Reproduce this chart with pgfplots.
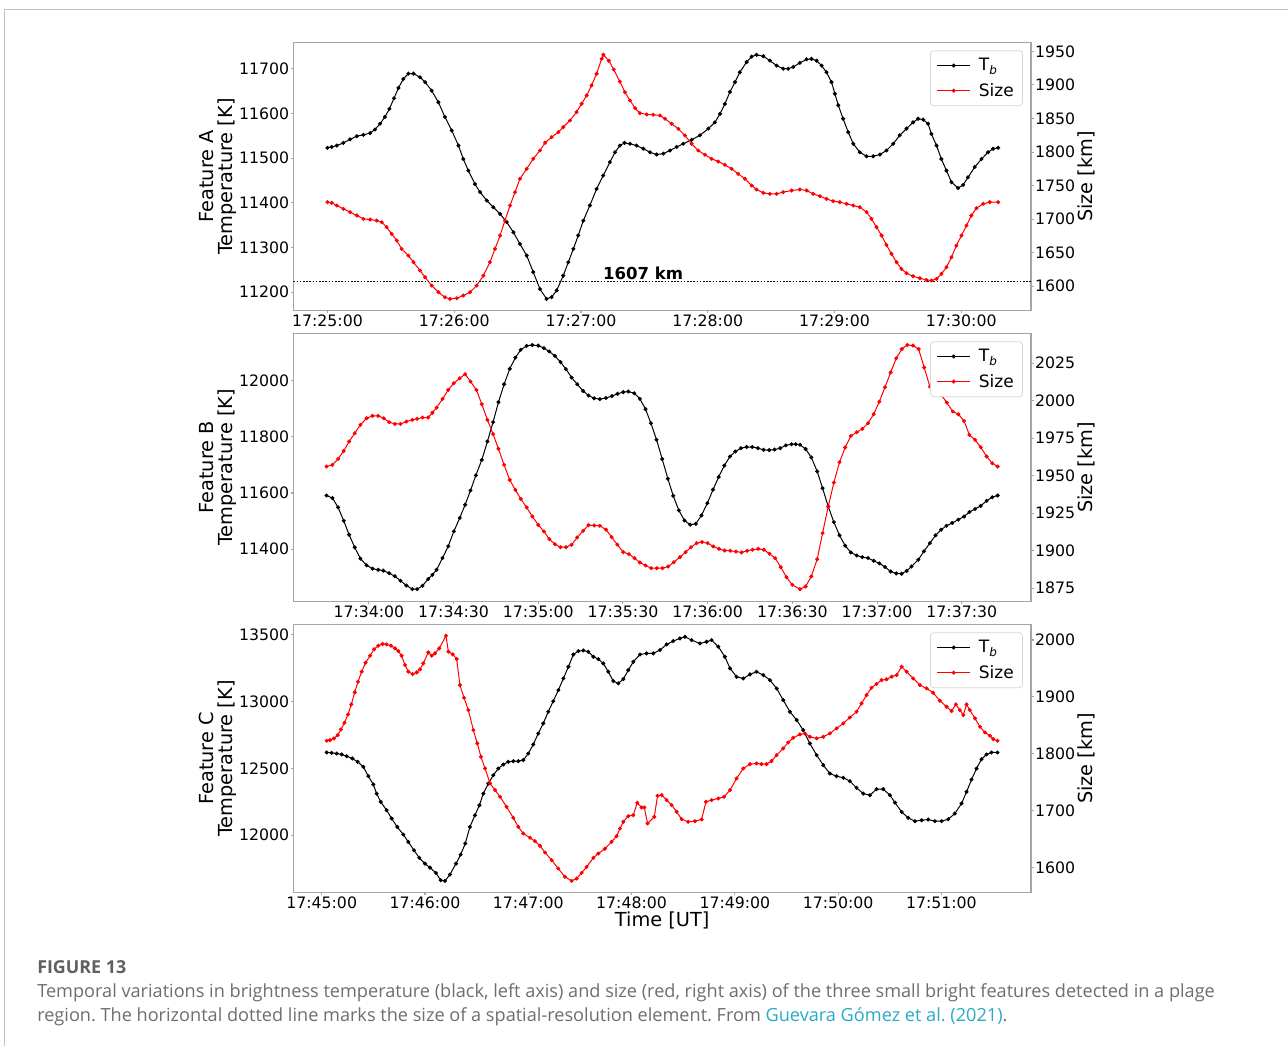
\documentclass[border=0pt]{standalone}
\usepackage{fontspec}
\setmainfont{DejaVu Sans}
\newfontfamily\capfam{Open Sans}
\usepackage{pgfplots}
\pgfplotsset{compat=1.18}
\definecolor{spinec}{RGB}{165,165,165}
\definecolor{legc}{RGB}{215,215,215}
\definecolor{framec}{RGB}{195,195,195}
\definecolor{capgray}{RGB}{110,110,110}
\definecolor{capdark}{RGB}{95,95,95}
\definecolor{linkc}{RGB}{40,172,198}
\newcommand\tickfont{\fontsize{11.8}{13}\selectfont}
\newcommand\labfont{\fontsize{14.5}{14.3}\selectfont}
\newcommand\legfont{\fontsize{12.8}{14}\selectfont}
\frenchspacing
\pgfplotsset{
  panelbase/.style={
    scale only axis, width=553.1pt, height=201.15pt, anchor=south west,
    axis line style={spinec, line width=1pt},
    tick style={spinec, line width=0.8pt},
    major tick length=2pt, tick align=outside,
    ticklabel style={font=\tickfont, inner sep=1pt},
    /pgf/number format/assume math mode=true,
    scaled ticks=false,
    label style={font=\labfont},
    ylabel style={align=center, inner sep=1pt},
    xlabel style={inner sep=1pt},
  },
  leftax/.style={panelbase, xtick pos=bottom, ytick pos=left},
  rightax/.style={panelbase, axis y line*=right, axis x line=none,
    ylabel={Size [km]},
    legend style={at={(1,1)}, anchor=north east, xshift=-6pt, yshift=-6pt,
      draw=legc, line width=0.6pt, rounded corners=2.5pt, fill=white,
      font=\legfont, row sep=3.8pt, column sep=4pt, inner xsep=4.5pt, inner ysep=3.7pt,
      cells={anchor=west}},
    legend image code/.code={\draw[mark repeat=2,mark phase=2,##1] plot coordinates {(0pt,0pt) (12.5pt,0pt) (25pt,0pt)};},
  },
  tbline/.style={black, line width=0.75pt, mark=*, mark size=1.1pt, mark options={solid}},
  szline/.style={red, line width=0.75pt, mark=*, mark size=1.1pt, mark options={solid}},
}
\begin{document}
\begin{tikzpicture}
\path[use as bounding box] (0pt,0pt) rectangle (966pt,784.5pt);
\fill[white] (0pt,0pt) rectangle (966pt,784.5pt);
\draw[framec, line width=0.9pt] (3.5pt,0pt) -- (3.5pt,777.5pt) -- (966pt,777.5pt);

% ---------------- Panel A ----------------
\begin{axis}[leftax, at={(220.1pt,551.6pt)},
  xmin=-16.1, xmax=333, ymin=11159, ymax=11759,
  xtick={0,60,120,180,240,300},
  xticklabels={17:25:00,17:26:00,17:27:00,17:28:00,17:29:00,17:30:00},
  ytick={11200,11300,11400,11500,11600,11700},
  yticklabels={11200,11300,11400,11500,11600,11700},
  ylabel={Feature A\\Temperature [K]}]
\addplot[tbline] table[row sep=\\]{t v\\
0 11523\\ 2.0 11525\\ 4.4 11528\\ 7.5 11534\\ 10.7 11542\\ 13.9 11549\\ 17.0 11552\\ 20.2 11556\\ 22.5 11564\\ 24.9 11577\\
27.2 11592\\ 29.3 11610\\ 31.5 11634\\ 33.6 11657\\ 35.9 11677\\ 38.3 11689\\ 40.7 11689\\ 43.8 11681\\ 46.2 11670\\ 49.3 11651\\
52.5 11625\\ 55.6 11592\\ 58.8 11562\\ 62.0 11528\\ 64.3 11498\\ 66.7 11472\\ 69.8 11442\\ 72.2 11424\\ 75.4 11405\\ 78.5 11390\\
81.7 11375\\ 84.8 11357\\ 88.0 11334\\ 91.1 11308\\ 94.3 11282\\ 97.4 11245\\ 100.6 11207\\ 103.7 11185\\ 106.1 11189\\ 108.5 11204\\
111.6 11237\\ 114.0 11267\\ 116.4 11297\\ 118.7 11327\\ 121.1 11360\\ 124.2 11394\\ 127.4 11431\\ 130.5 11461\\ 133.7 11491\\ 136.1 11513\\
138.4 11528\\ 140.6 11534\\ 143.2 11532\\ 146.3 11528\\ 149.5 11521\\ 152.7 11513\\ 155.8 11508\\ 159.0 11510\\ 162.1 11517\\ 165.3 11525\\
168.4 11532\\ 172.4 11541\\ 176.3 11551\\ 180.3 11566\\ 183.4 11580\\ 185.8 11599\\ 188.1 11621\\ 190.5 11648\\ 192.9 11670\\ 195.2 11692\\
198.4 11715\\ 200.8 11727\\ 203.1 11731\\ 206.3 11728\\ 209.4 11718\\ 212.6 11707\\ 215.7 11700\\ 218.1 11700\\ 220.5 11704\\ 223.6 11713\\
226.8 11721\\ 229.1 11722\\ 231.5 11718\\ 233.9 11707\\ 236.2 11692\\ 238.6 11670\\ 240.2 11644\\ 241.8 11618\\ 244.1 11588\\ 246.5 11558\\
248.9 11532\\ 252.0 11513\\ 255.2 11504\\ 258.3 11504\\ 261.5 11508\\ 264.6 11517\\ 267.8 11532\\ 270.9 11551\\ 274.1 11566\\ 277.2 11580\\
279.6 11588\\ 282.0 11586\\ 284.3 11577\\ 285.9 11554\\ 288.3 11528\\ 290.6 11498\\ 293.0 11472\\ 295.4 11446\\ 298.5 11433\\ 300.9 11440\\
303.2 11457\\ 306.4 11480\\ 309.6 11498\\ 312.7 11513\\ 315.1 11521\\ 317.5 11523\\
};
\end{axis}
\begin{axis}[rightax, at={(220.1pt,551.6pt)},
  xmin=-16.1, xmax=333, ymin=1563.8, ymax=1963.5,
  ytick={1600,1650,1700,1750,1800,1850,1900,1950},
  yticklabels={1600,1650,1700,1750,1800,1850,1900,1950}]
\addlegendimage{tbline}
\addlegendentry{T\textsubscript{\itshape b}}
\addplot[szline] table[row sep=\\]{t v\\
0 1725.3\\ 2.0 1724.3\\ 4.4 1720.3\\ 7.5 1715.3\\ 10.7 1710.4\\ 13.9 1705.4\\ 17.0 1700.4\\ 20.2 1699.4\\ 23.3 1697.9\\ 25.7 1695.4\\
28.0 1688.0\\ 30.4 1678.0\\ 32.8 1668.1\\ 35.1 1655.7\\ 38.3 1645.7\\ 40.7 1635.8\\ 43.8 1623.4\\ 46.2 1613.4\\ 49.3 1601.0\\ 52.5 1591.1\\
55.6 1583.6\\ 58.0 1581.1\\ 61.2 1582.1\\ 64.3 1586.1\\ 67.5 1591.1\\ 70.6 1601.0\\ 73.8 1615.9\\ 76.9 1635.8\\ 79.3 1655.7\\ 81.7 1675.6\\
84.0 1697.9\\ 86.4 1720.3\\ 88.8 1740.2\\ 91.1 1760.1\\ 94.3 1775.0\\ 97.4 1789.9\\ 100.6 1802.3\\ 103.0 1813.8\\ 106.1 1822.2\\ 109.3 1829.7\\
111.6 1837.1\\ 114.8 1847.1\\ 117.9 1859.5\\ 120.3 1871.9\\ 122.7 1884.3\\ 125.0 1899.3\\ 127.4 1916.7\\ 129.8 1939.0\\ 130.6 1945.0\\ 133.2 1936.0\\
135.5 1923.0\\ 138.4 1905.0\\ 140.8 1889.3\\ 143.2 1876.9\\ 145.6 1865.5\\ 147.9 1858.0\\ 151.1 1856.0\\ 154.2 1855.5\\ 157.4 1854.5\\ 159.8 1849.6\\
162.9 1842.1\\ 166.1 1834.6\\ 169.2 1824.7\\ 172.4 1812.3\\ 175.5 1802.3\\ 178.7 1795.9\\ 181.8 1789.9\\ 185.0 1785.9\\ 188.1 1780.9\\ 191.3 1775.0\\
194.4 1767.5\\ 197.6 1760.1\\ 200.8 1750.1\\ 203.1 1744.2\\ 206.3 1739.2\\ 209.4 1737.7\\ 212.6 1737.7\\ 215.7 1740.2\\ 219.7 1742.7\\ 223.6 1744.2\\
226.8 1742.7\\ 229.9 1737.7\\ 233.1 1734.2\\ 236.2 1730.2\\ 239.4 1726.8\\ 242.5 1725.3\\ 245.7 1722.8\\ 248.9 1720.3\\ 252.0 1717.8\\ 255.2 1710.4\\
257.5 1700.4\\ 259.9 1688.0\\ 262.3 1675.6\\ 264.6 1661.6\\ 267.0 1648.2\\ 269.4 1635.8\\ 271.7 1625.8\\ 274.1 1619.4\\ 277.2 1614.9\\ 280.4 1611.9\\
283.5 1609.4\\ 285.9 1608.5\\ 288.3 1610.9\\ 290.6 1618.4\\ 293.0 1628.3\\ 295.4 1643.2\\ 297.7 1660.6\\ 300.1 1675.6\\ 302.5 1690.5\\ 304.8 1705.4\\
307.2 1716.3\\ 310.4 1722.8\\ 313.5 1725.3\\ 317.5 1725.3\\
};
\addlegendentry{Size}
\addplot[black, line width=1.2pt, dash pattern=on 1.1pt off 1.3pt, mark=none, forget plot] coordinates {(-16.1,1607) (333,1607)};
\node[anchor=south, inner sep=1pt, font=\fontsize{12.4}{13}\selectfont\bfseries] at (axis cs:149.4,1607) {1607 km};
\end{axis}

% ---------------- Panel B ----------------
\begin{axis}[leftax, at={(220.1pt,333.4pt)},
  xmin=-26.7, xmax=234.5, ymin=11213, ymax=12170,
  xtick={0,30,60,90,120,150,180,210},
  xticklabels={17:34:00,17:34:30,17:35:00,17:35:30,17:36:00,17:36:30,17:37:00,17:37:30},
  ytick={11400,11600,11800,12000},
  yticklabels={11400,11600,11800,12000},
  ylabel={Feature B\\Temperature [K]}]
\addplot[tbline] table[row sep=\\]{t v\\
-15.0 11591\\ -12.9 11582\\ -10.9 11549\\ -8.9 11501\\ -7.0 11451\\ -5.0 11406\\ -3.0 11366\\ -0.8 11342\\ 1.3 11330\\ 3.3 11326\\
5.1 11323\\ 7.2 11314\\ 9.2 11303\\ 11.2 11287\\ 13.3 11270\\ 15.4 11257\\ 17.1 11257\\ 19.0 11269\\ 21.0 11293\\ 22.5 11308\\
24.0 11326\\ 26.1 11368\\ 28.1 11410\\ 30.1 11463\\ 32.2 11511\\ 34.1 11558\\ 36.0 11609\\ 37.9 11663\\ 40.0 11718\\ 42.0 11784\\
44.0 11853\\ 45.9 11924\\ 47.9 11988\\ 49.9 12043\\ 51.9 12083\\ 53.8 12111\\ 55.9 12125\\ 57.9 12128\\ 60.0 12126\\ 62.0 12117\\
63.9 12105\\ 65.9 12089\\ 67.9 12067\\ 69.8 12042\\ 71.8 12012\\ 73.8 11988\\ 75.9 11964\\ 77.8 11948\\ 79.8 11938\\ 81.8 11935\\
84.0 11939\\ 86.1 11946\\ 88.1 11954\\ 90.1 11960\\ 91.9 11962\\ 94.0 11956\\ 96.0 11936\\ 98.0 11899\\ 99.9 11849\\ 101.9 11790\\
103.9 11721\\ 105.9 11651\\ 107.8 11590\\ 109.8 11538\\ 111.8 11502\\ 113.8 11487\\ 115.8 11490\\ 117.8 11520\\ 119.9 11564\\ 121.9 11612\\
123.9 11657\\ 125.9 11698\\ 127.9 11730\\ 129.8 11748\\ 131.8 11760\\ 133.8 11764\\ 135.8 11764\\ 137.8 11760\\ 139.8 11754\\ 141.8 11753\\
143.7 11755\\ 145.7 11760\\ 147.7 11770\\ 149.7 11774\\ 151.2 11774\\ 152.7 11772\\ 154.7 11757\\ 156.7 11727\\ 158.8 11677\\ 160.7 11617\\
162.7 11552\\ 164.7 11496\\ 166.7 11449\\ 168.7 11412\\ 170.7 11388\\ 172.8 11377\\ 174.8 11371\\ 176.8 11368\\ 178.8 11358\\ 180.8 11349\\
182.8 11336\\ 184.8 11320\\ 186.8 11313\\ 188.7 11312\\ 190.5 11322\\ 192.2 11338\\ 194.6 11362\\ 196.6 11392\\ 198.7 11421\\ 200.7 11449\\
202.7 11469\\ 204.6 11483\\ 206.6 11493\\ 208.8 11505\\ 210.8 11516\\ 212.7 11532\\ 214.7 11543\\ 216.7 11554\\ 218.8 11572\\ 220.8 11585\\
222.7 11591\\
};
\end{axis}
\begin{axis}[rightax, at={(220.1pt,333.4pt)},
  xmin=-26.7, xmax=234.5, ymin=1866.1, ymax=2045,
  ytick={1875,1900,1925,1950,1975,2000,2025},
  yticklabels={1875,1900,1925,1950,1975,2000,2025}]
\addlegendimage{tbline}
\addlegendentry{T\textsubscript{\itshape b}}
\addplot[szline] table[row sep=\\]{t v\\
-15.0 1956.1\\ -12.9 1957.2\\ -10.9 1961.2\\ -8.9 1966.5\\ -7.0 1972.8\\ -5.0 1978.3\\ -3.0 1983.9\\ -0.8 1988.3\\ 1.3 1989.9\\ 3.3 1989.9\\
5.3 1988.3\\ 7.2 1985.7\\ 9.2 1984.5\\ 11.2 1984.5\\ 13.3 1986.1\\ 15.4 1987.2\\ 17.1 1987.9\\ 19.0 1988.8\\ 21.0 1988.8\\ 22.5 1992.0\\
24.0 1995.4\\ 26.1 2001.2\\ 28.1 2007.2\\ 30.1 2011.7\\ 32.2 2015.0\\ 34.1 2017.7\\ 36.0 2012.8\\ 38.1 2007.2\\ 40.0 1997.7\\ 42.0 1987.2\\
44.0 1977.7\\ 45.9 1967.9\\ 47.9 1957.2\\ 49.9 1947.2\\ 51.9 1940.5\\ 53.8 1934.5\\ 55.9 1928.8\\ 57.9 1922.8\\ 60.0 1917.2\\ 62.0 1912.8\\
63.9 1907.7\\ 65.9 1904.3\\ 67.9 1902.3\\ 69.8 1902.3\\ 71.8 1903.9\\ 73.8 1908.8\\ 75.9 1913.2\\ 77.8 1917.0\\ 79.8 1916.8\\ 81.8 1916.6\\
84.0 1914.0\\ 86.0 1909.0\\ 88.0 1904.0\\ 90.1 1899.0\\ 92.1 1897.7\\ 94.1 1895.0\\ 96.0 1892.1\\ 98.0 1890.1\\ 100.0 1888.3\\ 102.0 1888.3\\
104.0 1888.3\\ 106.0 1889.4\\ 108.0 1892.3\\ 110.2 1895.7\\ 112.2 1899.0\\ 114.1 1902.3\\ 116.1 1905.0\\ 118.0 1905.7\\ 120.0 1905.0\\ 122.0 1902.8\\
124.0 1901.2\\ 126.0 1900.1\\ 128.0 1899.9\\ 130.0 1899.4\\ 132.0 1898.8\\ 134.0 1899.9\\ 135.9 1900.6\\ 137.9 1901.2\\ 139.9 1900.6\\ 141.9 1897.9\\
143.9 1895.0\\ 145.9 1889.0\\ 147.9 1882.3\\ 150.0 1877.2\\ 152.7 1874.3\\ 154.7 1876.1\\ 156.7 1882.8\\ 158.8 1894.3\\ 160.7 1911.7\\ 162.7 1929.4\\
164.7 1945.4\\ 166.7 1959.0\\ 168.7 1968.8\\ 170.7 1976.5\\ 172.8 1979.0\\ 174.8 1981.2\\ 176.8 1985.0\\ 178.8 1991.0\\ 180.8 1999.4\\ 182.8 2009.0\\
184.8 2018.8\\ 186.8 2028.3\\ 188.8 2034.5\\ 190.7 2037.2\\ 192.7 2036.8\\ 194.7 2034.5\\ 196.7 2022.1\\ 198.7 2009.4\\ 200.7 2007.2\\ 202.7 2003.9\\
204.7 1998.8\\ 206.8 1992.8\\ 208.8 1991.0\\ 210.8 1986.5\\ 212.7 1977.2\\ 214.7 1973.9\\ 216.7 1969.0\\ 218.8 1962.8\\ 220.8 1958.3\\ 222.7 1956.1\\
};
\addlegendentry{Size}
\end{axis}

% ---------------- Panel C ----------------
\begin{axis}[leftax, at={(220.1pt,115.1pt)},
  xmin=-16.4, xmax=412, ymin=11572, ymax=13575,
  xtick={0,60,120,180,240,300,360},
  xticklabels={17:45:00,17:46:00,17:47:00,17:48:00,17:49:00,17:50:00,17:51:00},
  ytick={12000,12500,13000,13500},
  yticklabels={12000,12500,13000,13500},
  ylabel={Feature C\\Temperature [K]},
  xlabel={Time [UT]}]
\addplot[tbline] table[row sep=\\]{t v\\
2.9 12618\\ 5.8 12615\\ 8.7 12610\\ 11.6 12603\\ 14.5 12590\\ 17.8 12573\\ 20.9 12548\\ 24.2 12511\\ 27.1 12441\\ 30.0 12379\\
31.9 12311\\ 34.3 12249\\ 37.7 12187\\ 40.6 12125\\ 43.9 12062\\ 47.4 12005\\ 50.3 11950\\ 53.6 11888\\ 56.7 11831\\ 60.0 11788\\
62.9 11758\\ 66.4 11718\\ 69.1 11664\\ 71.6 11659\\ 74.5 11706\\ 78.0 11788\\ 80.7 11855\\ 83.4 11938\\ 86.1 12062\\ 89.0 12149\\
91.6 12224\\ 93.9 12311\\ 96.8 12386\\ 99.7 12448\\ 102.6 12498\\ 105.5 12528\\ 108.4 12548\\ 111.3 12553\\ 114.2 12553\\ 117.1 12561\\
120.0 12610\\ 122.9 12678\\ 125.8 12760\\ 128.7 12835\\ 131.6 12922\\ 134.5 13001\\ 137.5 13084\\ 140.4 13171\\ 143.3 13258\\ 146.2 13350\\
149.1 13375\\ 152.0 13380\\ 154.9 13370\\ 157.8 13333\\ 160.7 13315\\ 163.6 13283\\ 166.5 13221\\ 169.4 13151\\ 172.3 13134\\ 175.2 13166\\
178.1 13233\\ 181.0 13295\\ 184.9 13350\\ 188.7 13358\\ 192.6 13358\\ 196.5 13383\\ 200.4 13425\\ 204.2 13450\\ 208.1 13470\\ 211.0 13482\\
214.9 13457\\ 219.7 13432\\ 223.6 13445\\ 226.5 13457\\ 230.4 13408\\ 234.2 13333\\ 237.2 13246\\ 241.0 13183\\ 244.9 13171\\ 248.8 13201\\
252.6 13221\\ 256.5 13196\\ 260.4 13158\\ 264.3 13096\\ 268.1 13009\\ 272.0 12922\\ 275.9 12860\\ 279.7 12785\\ 283.6 12685\\ 287.5 12598\\
291.4 12523\\ 295.2 12461\\ 299.1 12441\\ 303.0 12429\\ 306.8 12404\\ 310.7 12354\\ 314.6 12311\\ 318.5 12299\\ 322.3 12344\\ 326.2 12344\\
330.1 12299\\ 333.0 12244\\ 336.9 12174\\ 340.7 12130\\ 344.6 12105\\ 348.5 12112\\ 352.3 12117\\ 356.2 12105\\ 360.1 12105\\ 364.0 12120\\
367.8 12162\\ 371.7 12237\\ 374.6 12324\\ 377.5 12416\\ 380.4 12498\\ 383.3 12568\\ 386.2 12603\\ 389.1 12618\\ 392.6 12618\\
};
\end{axis}
\begin{axis}[rightax, at={(220.1pt,115.1pt)},
  xmin=-16.4, xmax=412, ymin=1556, ymax=2027.6,
  ytick={1600,1700,1800,1900,2000},
  yticklabels={1600,1700,1800,1900,2000}]
\addlegendimage{tbline}
\addlegendentry{T\textsubscript{\itshape b}}
\addplot[szline] table[row sep=\\]{t v\\
2.9 1822.9\\ 4.8 1824.0\\ 7.1 1827.0\\ 9.3 1832.8\\ 11.2 1842.8\\ 13.2 1854.5\\ 15.3 1869.2\\ 17.2 1886.8\\ 19.2 1907.9\\ 21.1 1926.7\\
23.2 1944.3\\ 25.5 1960.1\\ 28.1 1972.4\\ 30.4 1983.6\\ 32.9 1990.0\\ 35.4 1993.0\\ 37.7 1992.4\\ 40.2 1990.0\\ 42.6 1985.3\\ 44.5 1980.6\\
46.4 1972.4\\ 48.4 1956.0\\ 50.3 1944.3\\ 52.8 1940.2\\ 55.2 1943.1\\ 57.1 1948.4\\ 59.0 1958.9\\ 61.9 1978.3\\ 63.9 1972.4\\ 65.8 1976.5\\
68.3 1985.3\\ 72.2 2007.6\\ 73.6 1979.5\\ 76.1 1974.8\\ 78.4 1966.6\\ 80.3 1920.8\\ 82.7 1898.5\\ 85.2 1876.8\\ 88.1 1841.6\\ 90.4 1818.2\\
92.5 1794.7\\ 94.9 1774.2\\ 97.8 1747.8\\ 100.7 1736.1\\ 103.6 1724.3\\ 107.4 1706.7\\ 111.3 1687.4\\ 114.2 1671.6\\ 117.1 1659.8\\ 121.0 1652.2\\
123.9 1646.3\\ 126.8 1638.1\\ 129.7 1626.4\\ 133.6 1612.9\\ 137.4 1598.2\\ 141.3 1583.6\\ 145.2 1576.5\\ 148.1 1580.6\\ 151.0 1590.6\\ 153.9 1601.2\\
157.8 1617.0\\ 160.7 1624.6\\ 164.5 1633.0\\ 168.4 1645.2\\ 171.3 1655.1\\ 173.3 1668.6\\ 175.2 1680.4\\ 178.1 1690.3\\ 181.0 1692.1\\ 183.3 1713.8\\
185.8 1705.6\\ 187.4 1705.6\\ 189.3 1677.4\\ 193.2 1689.1\\ 195.1 1726.1\\ 197.5 1727.3\\ 200.4 1718.5\\ 203.3 1709.7\\ 206.2 1697.9\\ 209.1 1685.0\\
212.9 1680.4\\ 216.8 1681.5\\ 220.7 1684.5\\ 223.2 1715.5\\ 226.5 1718.5\\ 230.4 1721.4\\ 233.7 1724.3\\ 237.2 1736.1\\ 241.0 1756.6\\ 244.9 1774.2\\
248.8 1781.8\\ 252.6 1783.0\\ 255.5 1781.8\\ 258.4 1781.8\\ 261.3 1787.1\\ 264.3 1797.6\\ 268.1 1809.4\\ 271.0 1819.9\\ 273.9 1828.1\\ 277.8 1834.0\\
280.7 1835.8\\ 283.6 1829.9\\ 287.5 1827.0\\ 291.4 1829.9\\ 295.2 1835.8\\ 299.1 1844.6\\ 303.0 1853.4\\ 306.8 1863.9\\ 310.7 1873.9\\ 313.6 1888.6\\
316.5 1903.2\\ 319.4 1916.1\\ 322.3 1922.6\\ 325.2 1929.6\\ 328.1 1930.8\\ 331.1 1935.5\\ 334.0 1938.4\\ 336.9 1953.1\\ 339.8 1944.3\\ 343.6 1932.5\\
347.5 1920.8\\ 351.4 1914.9\\ 355.2 1907.3\\ 359.1 1893.3\\ 363.0 1882.7\\ 365.9 1875.1\\ 368.4 1886.8\\ 370.7 1876.8\\ 372.7 1868.0\\ 374.6 1886.8\\
376.5 1876.8\\ 379.5 1862.2\\ 382.4 1847.5\\ 385.3 1837.5\\ 388.2 1831.7\\ 390.1 1825.8\\ 392.6 1822.9\\
};
\addlegendentry{Size}
\end{axis}

% ---------------- Caption ----------------
\node[anchor=base west, inner sep=0pt, text=capdark, font=\capfam\bfseries\fontsize{13.4}{15}\selectfont] at (27.75pt,54.4pt) {FIGURE 13};
\node[anchor=base west, inner sep=0pt, text=capgray, font=\capfam\fontsize{13.6}{15}\selectfont] at (27.75pt,36.75pt) {Temporal variations in brightness temperature (black, left axis) and size (red, right axis) of the three small bright features detected in a plage};
\node[anchor=base west, inner sep=0pt, text=capgray, font=\capfam\fontsize{13.6}{15}\selectfont] at (27.75pt,18.75pt) {region. The horizontal dotted line marks the size of a spatial-resolution element. From \textcolor{linkc}{Guevara Gómez et al. (2021)}.};
\end{tikzpicture}
\end{document}
